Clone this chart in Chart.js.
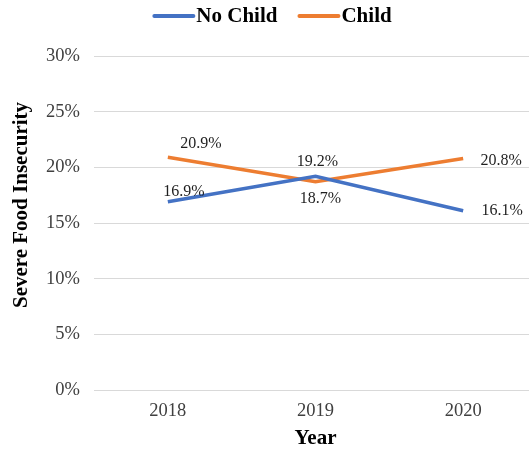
<!DOCTYPE html>
<html><head><meta charset="utf-8">
<script src="https://cdn.jsdelivr.net/npm/chart.js@4/dist/chart.umd.min.js"></script>
<style>
html,body{margin:0;padding:0;overflow:hidden;background:#fff;}
#wrap{width:545px;height:451px;position:relative;}
</style></head><body>
<div id="wrap"><canvas id="c"></canvas></div>
<script>
const years = ['2018','2019','2020'];
const noChild = [16.9, 19.2, 16.1];
const child = [20.9, 18.7, 20.8];
const yTicks = [0,5,10,15,20,25,30];

// label offsets (px) relative to each point: [dx, dy]
const labelOffsets = [
  [[16,-10],[2,-14],[39,0]],
  [[33,-14],[5,17],[38,2]]
];

const serif = '"Liberation Serif","Times New Roman",serif';

const labelPlugin = {
  id:'valueLabels',
  afterDatasetsDraw(chart){
    const ctx = chart.ctx;
    ctx.save();
    ctx.font = '16px ' + serif;
    ctx.fillStyle = '#1f1f1f';
    ctx.textAlign = 'center';
    ctx.textBaseline = 'middle';
    chart.data.datasets.forEach((ds,di)=>{
      const meta = chart.getDatasetMeta(di);
      meta.data.forEach((pt,i)=>{
        const o = labelOffsets[di][i];
        ctx.fillText(ds.data[i].toFixed(1)+'%', pt.x+o[0], pt.y+o[1]);
      });
    });
    ctx.restore();
  }
};

const legendPlugin = {
  id:'customLegend',
  afterDraw(chart){
    const ctx = chart.ctx;
    ctx.save();
    ctx.font = 'bold 21px ' + serif;
    ctx.textBaseline = 'middle';
    ctx.textAlign = 'left';
    const lineW = 41, gap = 2, spacing = 21, y = 16;
    const items = chart.data.datasets.map(ds=>({text:ds.label, color:ds.borderColor, w:ctx.measureText(ds.label).width}));
    let total = 0;
    items.forEach((it,i)=>{ total += lineW + gap + it.w + (i<items.length-1?spacing:0); });
    let x = chart.width/2 - total/2;
    items.forEach(it=>{
      ctx.strokeStyle = it.color;
      ctx.lineWidth = 4;
      ctx.lineCap = 'round';
      ctx.beginPath(); ctx.moveTo(x+1,y); ctx.lineTo(x+lineW-1,y); ctx.stroke();
      x += lineW + gap;
      ctx.fillStyle = '#000';
      ctx.fillText(it.text, x, y+1);
      x += it.w + spacing;
    });
    // y axis title
    ctx.save();
    ctx.translate(22, 205);
    ctx.rotate(-Math.PI/2);
    ctx.textAlign = 'center';
    ctx.fillStyle = '#000';
    ctx.fillText('Severe Food Insecurity', 0, 0);
    ctx.restore();
    ctx.restore();
  }
};

new Chart(document.getElementById('c'),{
  type:'line',
  data:{
    labels: years,
    datasets:[
      {label:'No Child', data:noChild, borderColor:'#4472C4', backgroundColor:'#4472C4', borderWidth:3.5, pointRadius:0, tension:0},
      {label:'Child', data:child, borderColor:'#ED7D31', backgroundColor:'#ED7D31', borderWidth:3.5, pointRadius:0, tension:0}
    ]
  },
  options:{
    responsive:true, maintainAspectRatio:false, animation:false,
    layout:{padding:{top:56,right:8,bottom:0,left:0}},
    plugins:{
      legend:{display:false},
      tooltip:{enabled:false}
    },
    scales:{
      x:{
        offset:true,
        grid:{display:false, drawTicks:false, offset:true},
        border:{display:false},
        ticks:{font:{family:serif,size:18.5}, color:'#404040', padding:10},
        title:{display:true, text:'Year', font:{family:serif,size:21,weight:'bold'}, color:'#000', padding:{top:0,bottom:0}},
        afterFit(s){ s.height = 61; }
      },
      y:{
        min:0, max:30,
        afterBuildTicks(s){ s.ticks = yTicks.map(v=>({value:v})); },
        grid:{color:'#d9d9d9', lineWidth:1, drawTicks:false},
        border:{display:false},
        ticks:{font:{family:serif,size:18.5}, color:'#404040', padding:14, callback:v=>v+'%'},
        title:{display:false},
        afterFit(s){ s.width = 94; }
      }
    }
  },
  plugins:[labelPlugin, legendPlugin]
});
</script>
</body></html>
